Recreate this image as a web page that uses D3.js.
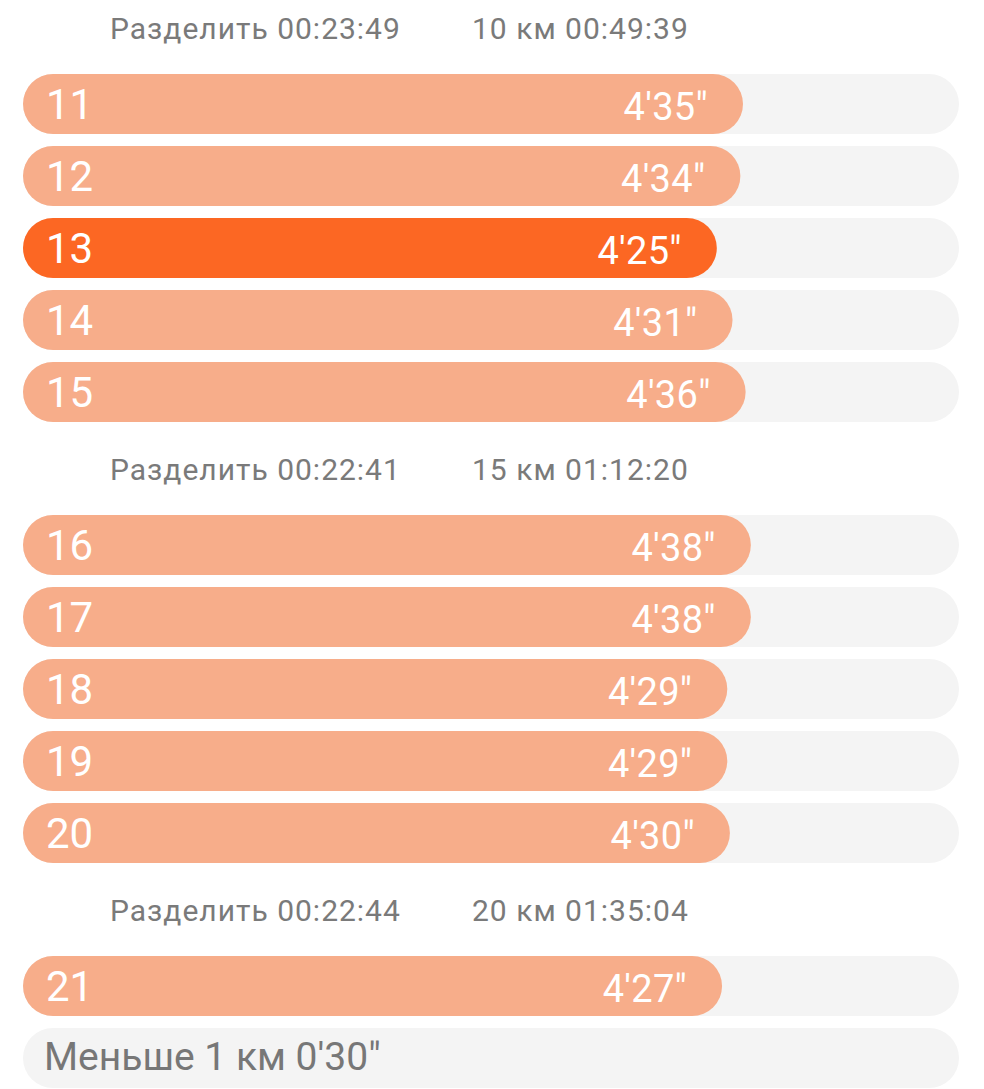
<!DOCTYPE html>
<html>
<head>
<meta charset="utf-8">
<script src="https://cdn.jsdelivr.net/npm/d3@7"></script>
<style>
  html, body { margin: 0; padding: 0; background: #ffffff; }
  svg { display: block; font-family: Roboto, "Noto Sans", sans-serif; }
</style>
</head>
<body>
<svg id="chart" width="984" height="1089"></svg>
<script>
// ---- data ----
const kms = [11, 12, 13, 14, 15, 16, 17, 18, 19, 20, 21];
const paceLabels = ["4'35\"", "4'34\"", "4'25\"", "4'31\"", "4'36\"", "4'38\"", "4'38\"", "4'29\"", "4'29\"", "4'30\"", "4'27\""];
const paceSeconds = [275, 274, 265, 271, 276, 278, 278, 269, 269, 270, 267];
const fastestKm = 13;
const splitLabels = ["Разделить 00:23:49", "Разделить 00:22:41", "Разделить 00:22:44"];
const totalLabels = ["10 км 00:49:39", "15 км 01:12:20", "20 км 01:35:04"];
const splitBeforeKm = [11, 16, 21];
const remainderLabel = "Меньше 1 км 0'30\"";

// ---- layout ----
const trackX0 = 23, trackX1 = 959;
const barH = 60;
const rowStep = 72;
const headerStep = 81;

const colors = { light: "#f7ad8a", strong: "#fc6723", track: "#f4f4f4", gray: "#777777", header: "#7a7a7a", white: "#ffffff" };

// Build sequence of items (headers, bars, remainder)
const items = [];
let pos = 0;
kms.forEach((km, i) => {
  const si = splitBeforeKm.indexOf(km);
  if (si >= 0) {
    items.push({ type: "header", pos: pos, split: splitLabels[si], total: totalLabels[si] });
    pos += headerStep / rowStep;
  }
  items.push({ type: "bar", pos: pos, km: km, label: paceLabels[i], sec: paceSeconds[i] });
  pos += 1;
});
items.push({ type: "rest", pos: pos, label: remainderLabel });

// y scale: slot position -> pixel top
const y = d3.scaleLinear().domain([0, 1]).range([74 - headerStep, 74 - headerStep + rowStep]);
// x scale: seconds -> bar width
const x = d3.scaleLinear().domain([0, 357.5]).range([0, trackX1 - trackX0]);

const svg = d3.select("#chart");

// headers
const headers = svg.selectAll("g.header").data(items.filter(d => d.type === "header"))
  .join("g").attr("class", "header");
headers.append("text")
  .attr("x", 110)
  .attr("y", d => y(d.pos) + 46)
  .attr("font-size", 30)
  .attr("letter-spacing", 1)
  .attr("fill", colors.header)
  .text(d => d.split);
headers.append("text")
  .attr("x", 472)
  .attr("y", d => y(d.pos) + 46)
  .attr("font-size", 30)
  .attr("letter-spacing", 1)
  .attr("fill", colors.header)
  .text(d => d.total);

// tracks (for bars + remainder)
const rows = items.filter(d => d.type !== "header");
svg.selectAll("rect.track").data(rows).join("rect")
  .attr("class", "track")
  .attr("x", trackX0)
  .attr("y", d => y(d.pos))
  .attr("width", trackX1 - trackX0)
  .attr("height", barH)
  .attr("rx", barH / 2)
  .attr("fill", colors.track);

const bars = items.filter(d => d.type === "bar");
svg.selectAll("rect.bar").data(bars).join("rect")
  .attr("class", "bar")
  .attr("x", trackX0)
  .attr("y", d => y(d.pos))
  .attr("width", d => x(d.sec))
  .attr("height", barH)
  .attr("rx", barH / 2)
  .attr("fill", d => d.km === fastestKm ? colors.strong : colors.light);

svg.selectAll("text.km").data(bars).join("text")
  .attr("class", "km")
  .attr("x", 46)
  .attr("y", d => y(d.pos) + 45)
  .attr("font-size", 42)
  .attr("fill", colors.white)
  .text(d => d.km);

svg.selectAll("text.pace").data(bars).join("text")
  .attr("class", "pace")
  .attr("x", d => trackX0 + x(d.sec) - 35)
  .attr("y", d => y(d.pos) + 45.5)
  .attr("text-anchor", "end")
  .attr("font-size", 38)
  .attr("letter-spacing", 0.3)
  .attr("fill", colors.white)
  .text(d => d.label);

svg.selectAll("text.rest").data(items.filter(d => d.type === "rest")).join("text")
  .attr("class", "rest")
  .attr("x", 44)
  .attr("y", d => y(d.pos) + 42)
  .attr("font-size", 39)
  .attr("fill", colors.gray)
  .text(d => d.label);
</script>
</body>
</html>
